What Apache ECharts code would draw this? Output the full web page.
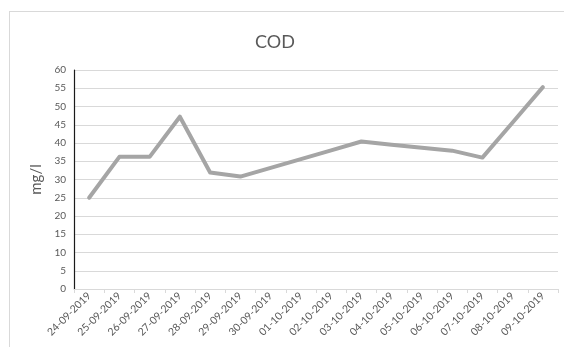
<!DOCTYPE html>
<html>
<head>
<meta charset="utf-8">
<script src="https://cdn.jsdelivr.net/npm/echarts@6/dist/echarts.min.js"></script>
<style>
  html, body { margin: 0; padding: 0; background: #fff; }
  #frame { position: absolute; left: 9px; top: 11px; width: 560px; height: 340px;
           border-left: 1px solid #d9d9d9; border-top: 1px solid #d9d9d9; box-sizing: border-box; }
  #chart { position: absolute; left: 0; top: 0; width: 564px; height: 347px; }
</style>
</head>
<body>
<div id="frame"></div>
<div id="chart"></div>
<script>
// Sampling dates
const dates = [
  '24-09-2019', '25-09-2019', '26-09-2019', '27-09-2019', '28-09-2019', '29-09-2019',
  '30-09-2019', '01-10-2019', '02-10-2019', '03-10-2019', '04-10-2019', '05-10-2019',
  '06-10-2019', '07-10-2019', '08-10-2019', '09-10-2019'
];
// COD concentration (mg/l)
const codValues = [25, 36.2, 36.2, 47.2, 31.9, 30.8, 33.2, 35.6, 38.0, 40.4, 39.5, 38.7, 37.9, 36.0, 45.6, 55.3];

const font = 'Lato, "Open Sans", sans-serif';
const textColor = '#595959';

const chart = echarts.init(document.getElementById('chart'), null, { renderer: 'canvas' });
chart.setOption({
  animation: false,
  backgroundColor: 'transparent',
  title: {
    text: 'COD',
    left: 270,
    top: 28,
    textAlign: 'center',
    textStyle: { fontFamily: font, fontSize: 18, fontWeight: 'normal', color: textColor }
  },
  grid: { left: 74, right: 6, top: 70, bottom: 58, containLabel: false },
  xAxis: {
    type: 'category',
    data: dates,
    boundaryGap: true,
    axisLine: { show: true, lineStyle: { color: '#d9d9d9', width: 1 } },
    axisTick: { show: true, length: 4, lineStyle: { color: '#d9d9d9' } },
    axisLabel: {
      interval: 0,
      rotate: 45,
      margin: 5,
      fontFamily: font,
      fontSize: 10.5,
      color: textColor
    },
    splitLine: { show: false }
  },
  yAxis: {
    type: 'value',
    min: 0,
    max: 60,
    interval: 5,
    name: 'mg/l',
    nameLocation: 'middle',
    nameRotate: 90,
    nameGap: 28,
    nameTextStyle: { fontFamily: font, fontSize: 15, color: textColor },
    axisLine: { show: true, lineStyle: { color: '#1a1a1a', width: 1.2 } },
    axisTick: { show: false },
    axisLabel: { fontFamily: font, fontSize: 10, color: textColor, margin: 8 },
    splitLine: { show: true, lineStyle: { color: '#d9d9d9', width: 1 } }
  },
  series: [{
    type: 'line',
    data: codValues,
    symbol: 'none',
    lineStyle: { color: '#a5a5a5', width: 4, join: 'round', cap: 'round' },
    itemStyle: { color: '#a5a5a5' }
  }]
});
</script>
</body>
</html>
